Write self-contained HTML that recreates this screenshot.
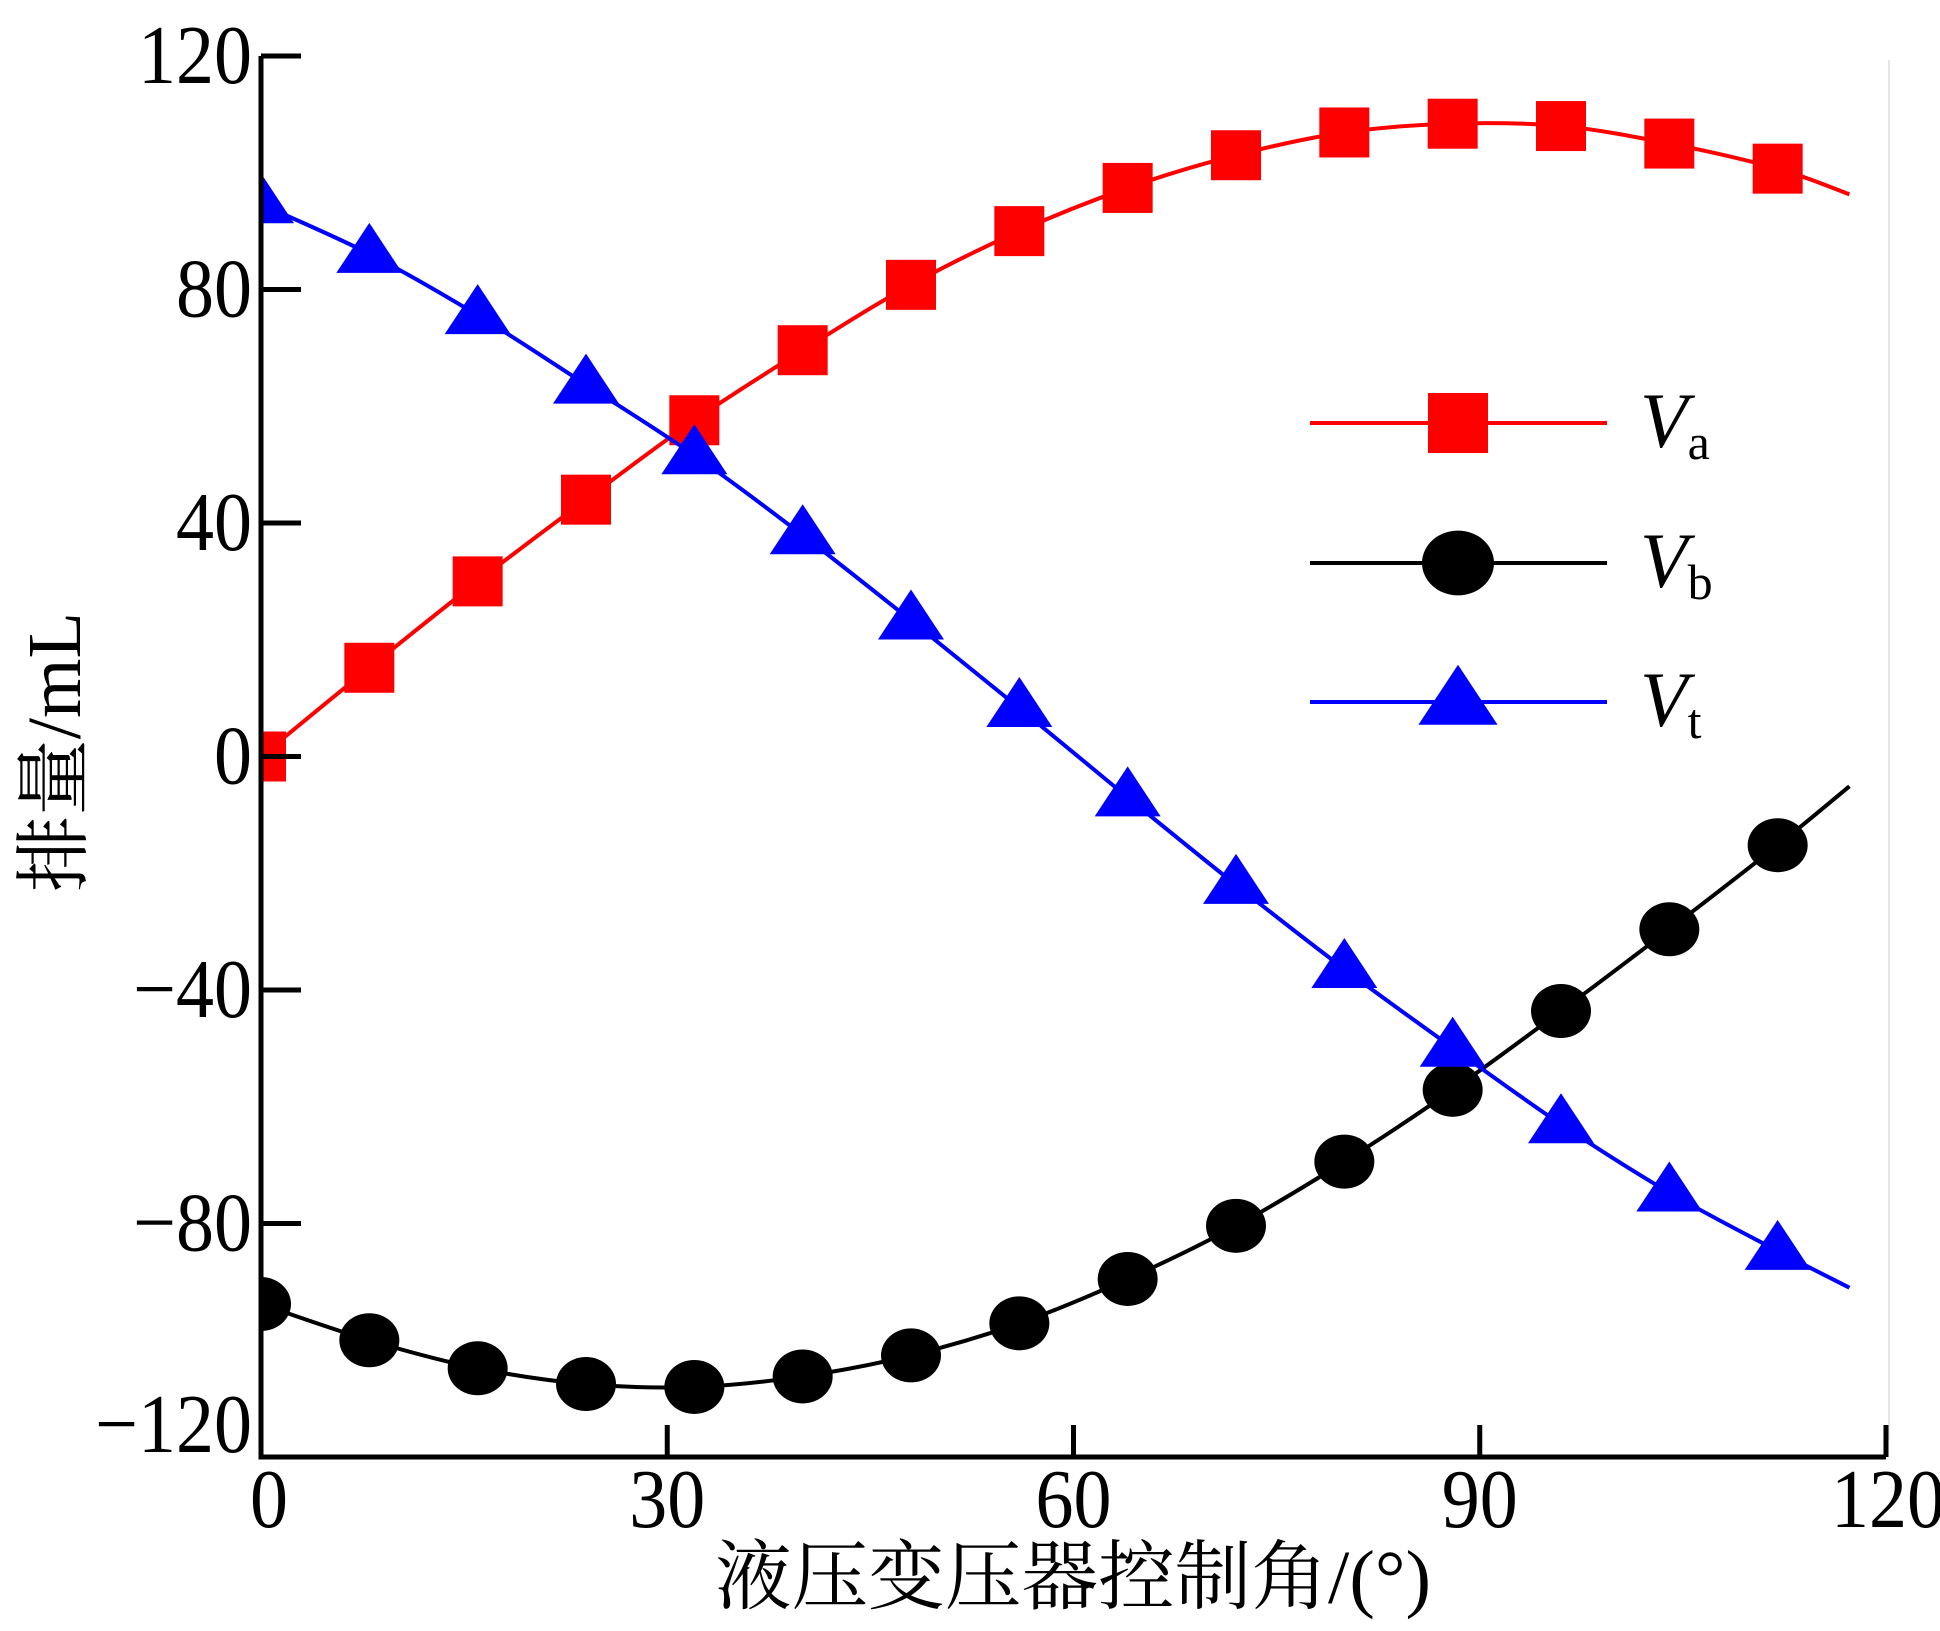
<!DOCTYPE html>
<html><head><meta charset="utf-8"><style>
html,body{margin:0;padding:0;background:#fff;}
svg{display:block;}
text{font-family:"Liberation Serif","Noto Serif CJK SC",serif;fill:#000;}
</style></head><body>
<svg id="chart" width="1940" height="1631" viewBox="0 0 1940 1631" xmlns="http://www.w3.org/2000/svg">
<defs><clipPath id="plotclip"><rect x="261" y="0" width="1679" height="1457"/></clipPath></defs>
<line x1="1889" y1="60" x2="1889" y2="1440" stroke="#e6e6e6" stroke-width="2"/>
<g id="series" clip-path="url(#plotclip)"></g>
<g id="axes"></g>
<g id="legend"></g>
<text x="1073" y="1603" font-size="76" text-anchor="middle" textLength="716" lengthAdjust="spacingAndGlyphs">液压变压器控制角/(°)</text>
<text transform="translate(80,752) rotate(-90)" font-size="76" text-anchor="middle" textLength="280" lengthAdjust="spacingAndGlyphs">排量/mL</text>
</svg>
<script>
const xTicks = [0, 30, 60, 90, 120];
const yTicks = [120, 80, 40, 0, -40, -80, -120];
const xMarkers = [0, 8, 16, 24, 32, 40, 48, 56, 64, 72, 80, 88, 96, 104, 112];
const xCurveEnd = 117.3;
const vaValues = [0, 15.2, 30, 44, 57.6, 69.6, 80.8, 90, 97.4, 103, 106.9, 108.4, 108, 105, 100.7];
const vaEnd = 96.3;
const vbValues = [-93.8, -100, -104.8, -107.5, -108, -106.2, -102.6, -97.1, -89.5, -80.4, -69.4, -57.1, -43.6, -29.6, -15.2];
const vbEnd = -5.1;
const vtValues = [94.6, 86.1, 75.6, 63.7, 51.6, 37.9, 23.3, 8.3, -7, -22, -36.4, -49.9, -63, -74.7, -84.7];
const vtEnd = -91;

const NS = "http://www.w3.org/2000/svg";
const X0 = 261, X1 = 1886, Y0 = 1457, Y1 = 56;
function sx(v){ return X0 + (v - 0) / 120 * (X1 - X0); }
function sy(v){ return Y0 - (v + 120) / 240 * (Y0 - Y1); }
function mk(tag, attrs, parent){ const e = document.createElementNS(NS, tag); for (const k in attrs) e.setAttribute(k, attrs[k]); parent.appendChild(e); return e; }

const axes = document.getElementById('axes');
const ax = mk('path', {d:`M${X0},${Y1} L${X0},${Y0} L${X1},${Y0}`, fill:'none', stroke:'#000', 'stroke-width':5}, axes);


xTicks.forEach(t => {
  const x = sx(t);
  if (t > 0) {
    const l = mk('line', {x1:x, y1:Y0, x2:x, y2:Y0 - 32, stroke:'#000', 'stroke-width':5}, axes);
    
    
  }
  const tx = mk('text', {x: t === 0 ? x + 8 : (t === 120 ? x + 2 : x), y: 1527, 'font-size':76, 'text-anchor':'middle', transform:`translate(0,${-1527*0.1}) scale(1,1.1)`}, axes);
  tx.textContent = String(t);
  
  
});
yTicks.forEach(t => {
  const y = sy(t);
  if (t > -120) {
    const l = mk('line', {x1:X0, y1:y, x2:X0 + 40, y2:y, stroke:'#000', 'stroke-width':5}, axes);
    
    
  }
  const label = t < 0 ? '\u2212' + Math.abs(t) : String(t);
  const by = t === -120 ? y - 5 : y + 27;
  const tx = mk('text', {x: 252, y: by, 'font-size':76, 'text-anchor':'end', transform:`translate(0,${-by*0.1}) scale(1,1.1)`}, axes);
  tx.textContent = label;
  
  
});

function smoothPath(xs, ys){
  const p = xs.map((x,i)=>[sx(x), sy(ys[i])]);
  let d = `M${p[0][0]},${p[0][1]}`;
  for (let i = 0; i < p.length - 1; i++) {
    const a = p[Math.max(0,i-1)], b = p[i], c = p[i+1], e = p[Math.min(p.length-1,i+2)];
    const c1 = [b[0] + (c[0]-a[0])/6, b[1] + (c[1]-a[1])/6];
    const c2 = [c[0] - (e[0]-b[0])/6, c[1] - (e[1]-b[1])/6];
    d += ` C${c1[0]},${c1[1]} ${c2[0]},${c2[1]} ${c[0]},${c[1]}`;
  }
  return d;
}
function marker(type, x, y, color, parent, big){
  const s = big ? 1.2 : 1;
  if (type === 'square') return mk('rect', {x:x-25*s, y:y-25*s, width:50*s, height:50*s, fill:color}, parent);
  if (type === 'circle') return mk('ellipse', {cx:x, cy:y, rx:30*s, ry:27*s, fill:color}, parent);
  return mk('polygon', {points:`${x},${y-31*s} ${x-33*s},${y+19*s} ${x+33*s},${y+19*s}`, fill:color}, parent);
}
const series = document.getElementById('series');
const defs = [
  {name:'va', vals:vaValues, end:vaEnd, color:'#ff0000', type:'square'},
  {name:'vb', vals:vbValues, end:vbEnd, color:'#000000', type:'circle'},
  {name:'vt', vals:vtValues, end:vtEnd, color:'#0000ff', type:'triangle'}
];
defs.forEach(s => {
  const g = mk('g', {}, series);
  
  
  const line = mk('path', {d: smoothPath(xMarkers.concat([xCurveEnd]), s.vals.concat([s.end])), fill:'none', stroke:s.color, 'stroke-width':4}, g);
  
  
  xMarkers.forEach((x,i) => {
    const m = marker(s.type, sx(x), sy(s.vals[i]), s.color, g, false);
    
    
  });
});

const legend = document.getElementById('legend');
const legY = [423, 563, 702];
const legSub = ['a', 'b', 't'];
defs.forEach((s,i) => {
  const g = mk('g', {}, legend);
  
  
  mk('line', {x1:1310, y1:legY[i], x2:1607, y2:legY[i], stroke:s.color, 'stroke-width':4}, g);
  marker(s.type, 1458, legY[i], s.color, g, true);
  const t = mk('text', {x:1640, y:legY[i] + 24, 'font-size':78}, g);
  const v = mk('tspan', {'font-style':'italic'}, t); v.textContent = 'V';
  const sub = mk('tspan', {'font-size':50, dy:12}, t); sub.textContent = legSub[i];
  
  
});
</script>
</body></html>
